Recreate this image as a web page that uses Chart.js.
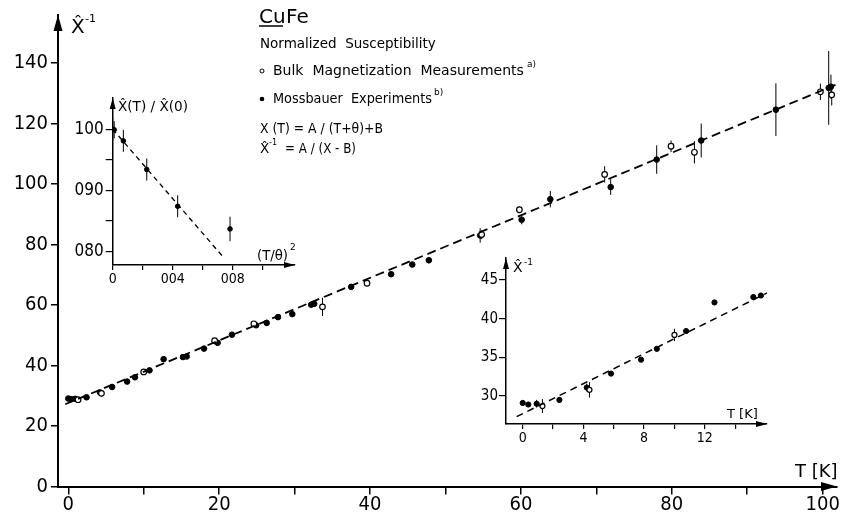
<!DOCTYPE html>
<html>
<head>
<meta charset="utf-8">
<script src="https://cdn.jsdelivr.net/npm/chart.js@4.4.1/dist/chart.umd.min.js"></script>
<style>
  html, body { margin: 0; padding: 0; background: #fff; }
  #wrap { position: relative; width: 841px; height: 518px; }
  #wrap canvas { position: absolute; left: 0; top: 0; }
</style>
</head>
<body>
<div id="wrap">
  <canvas id="mainChart" width="841" height="518"></canvas>
  <canvas id="ratioChart" width="841" height="518"></canvas>
  <canvas id="lowTChart" width="841" height="518"></canvas>
</div>
<script>
// Main plot: inverse normalized susceptibility vs T [K]
const bulkT = [1.3, 4.4, 10.0, 19.4, 24.6, 33.7, 39.6, 54.8, 59.8, 71.1, 79.9, 83.0, 99.7, 101.2];
const bulkInv = [28.7, 30.8, 37.9, 48.2, 53.8, 59.4, 67.2, 83.3, 91.5, 103.2, 112.5, 110.5, 130.5, 129.5];
const bulkErr = [0.9, 1.0, 0.8, 0.8, 0.8, 3.0, 0.8, 1.5, 1.0, 2.7, 1.9, 3.7, 2.7, 3.5];

const mossT = [0, 0.37, 0.92, 2.42, 4.22, 5.82, 7.8, 8.84, 10.77, 12.64, 15.2, 15.7,
  18.0, 19.8, 21.7, 24.9, 26.3, 27.8, 29.7, 32.2, 32.6, 37.5,
  42.8, 45.6, 47.8, 54.6, 60.1, 63.9, 71.9, 78.0, 83.9, 93.8, 100.8, 101.1];
const mossInv = [29.1, 28.9, 29.0, 29.5, 31.1, 32.9, 34.7, 36.1, 38.4, 42.1, 42.8, 43.0,
  45.6, 47.5, 50.2, 53.3, 54.1, 56.0, 57.0, 60.1, 60.4, 66.0,
  70.2, 73.4, 74.8, 83.0, 88.2, 95.0, 99.0, 108.1, 114.4, 124.6, 131.8, 132.2];
const mossErr = [0.3, 0.3, 0.5, 0.3, 0.5, 0.3, 0.3, 0.3, 0.3, 0.3, 0.3, 0.3,
  0.3, 0.3, 0.3, 0.8, 0.3, 0.3, 0.5, 0.3, 0.3, 0.3,
  0.3, 0.3, 1.0, 2.4, 1.5, 2.7, 2.6, 4.7, 5.6, 8.7, 12.2, 4.0];

const fitMainT = [-0.4, 101.7];
const fitMainInv = [27.2, 132.8];

const mainXTicks = [0, 10, 20, 30, 40, 50, 60, 70, 80, 90, 100];
const mainXLabels = ["0", "", "20", "", "40", "", "60", "", "80", "", "100"];
const mainYTicks = [0, 20, 40, 60, 80, 100, 120, 140];
const mainYLabels = ["0", "20", "40", "60", "80", "100", "120", "140"];

// Upper inset: X(T)/X(0) vs (T/theta)^2
const ratioX = [0, 0.001, 0.0071, 0.0227, 0.0433, 0.0782];
const ratioY = [1.0, 0.999, 0.981, 0.934, 0.874, 0.837];
const ratioErr = [0.019, 0.014, 0.018, 0.018, 0.018, 0.02];
const fitRatioX = [0, 0.0733];
const fitRatioY = [1.0, 0.792];
const ratioXTicks = [0, 0.02, 0.04, 0.06, 0.08, 0.1];
const ratioXLabels = ["0", "", "004", "", "008", ""];
const ratioYTicks = [0.8, 0.85, 0.9, 0.95, 1.0];
const ratioYLabels = ["080", "", "090", "", "100"];

// Lower inset: low temperature part of the main data
const lowTMax = 16;
const fitLowT = [-0.4, 16.9];
const fitLowInv = [27.33, 44.1];
const lowXTicks = [0, 2, 4, 6, 8, 10, 12, 14];
const lowXLabels = ["0", "", "4", "", "8", "", "12", ""];
const lowYTicks = [30, 35, 40, 45];
const lowYLabels = ["30", "35", "40", "45"];

const FONT = '"DejaVu Sans Condensed", "DejaVu Sans", sans-serif';
const TEXT_FONT = '"DejaVu Sans", sans-serif';

const toPoints = (xs, ys) => xs.map((x, i) => ({ x: x, y: ys[i] }));

const linearAxis = (cfg) => ({
  type: "linear",
  position: cfg.position,
  min: cfg.min,
  max: cfg.max,
  afterBuildTicks: (scale) => {
    scale.ticks = cfg.ticks.map((v) => ({ value: v }));
  },
  afterFit: (scale) => {
    if (cfg.position === "left") scale.width = cfg.size;
    else scale.height = cfg.size;
  },
  border: { display: true, color: "#000", width: cfg.lineWidth },
  grid: {
    drawOnChartArea: false,
    drawTicks: true,
    tickLength: cfg.tickLength,
    color: "#000",
    lineWidth: cfg.tickWidth,
  },
  ticks: {
    color: "#000",
    autoSkip: false,
    maxRotation: 0,
    padding: cfg.padding,
    font: { family: FONT, size: cfg.fontSize, lineHeight: 1 },
    callback: (value, index) => cfg.labels[index],
  },
});

// vertical error bars, drawn under the markers
const errorBarPlugin = {
  id: "errorBars",
  beforeDatasetsDraw(chart) {
    const ctx = chart.ctx;
    const yScale = chart.scales.y;
    ctx.save();
    ctx.strokeStyle = "#000";
    ctx.lineWidth = 1;
    chart.data.datasets.forEach((ds, i) => {
      if (!ds.errorBars) return;
      const meta = chart.getDatasetMeta(i);
      meta.data.forEach((pt, j) => {
        const e = ds.errorBars[j];
        if (!e) return;
        const v = ds.data[j].y;
        ctx.beginPath();
        ctx.moveTo(pt.x, yScale.getPixelForValue(v - e));
        ctx.lineTo(pt.x, yScale.getPixelForValue(v + e));
        ctx.stroke();
      });
    });
    ctx.restore();
  },
};

// arrow heads at the ends of both axes
const makeArrowPlugin = (len, half) => ({
  id: "axisArrows",
  afterDraw(chart) {
    const ctx = chart.ctx;
    const a = chart.chartArea;
    ctx.save();
    ctx.fillStyle = "#000";
    ctx.beginPath();
    ctx.moveTo(a.left, a.top);
    ctx.lineTo(a.left - half, a.top + len);
    ctx.lineTo(a.left + half, a.top + len);
    ctx.closePath();
    ctx.fill();
    ctx.beginPath();
    ctx.moveTo(a.right, a.bottom);
    ctx.lineTo(a.right - len, a.bottom - half);
    ctx.lineTo(a.right - len, a.bottom + half);
    ctx.closePath();
    ctx.fill();
    ctx.restore();
  },
});

// free text, superscripts and legend markers
const makeTextPlugin = (items) => ({
  id: "freeText",
  afterDraw(chart) {
    const ctx = chart.ctx;
    ctx.save();
    ctx.fillStyle = "#000";
    ctx.strokeStyle = "#000";
    ctx.textBaseline = "alphabetic";
    ctx.textAlign = "left";
    items.forEach((t) => {
      if (t.dot) {
        ctx.beginPath();
        ctx.arc(t.x, t.y, t.r, 0, Math.PI * 2);
        if (t.dot === "open") {
          ctx.lineWidth = 1;
          ctx.stroke();
        } else {
          ctx.fill();
        }
        return;
      }
      if (t.line) {
        ctx.lineWidth = t.width || 1.5;
        ctx.beginPath();
        ctx.moveTo(t.x, t.y);
        ctx.lineTo(t.x2, t.y);
        ctx.stroke();
        return;
      }
      ctx.font = `${t.size}px ${t.family || TEXT_FONT}`;
      if (t.maxWidth) ctx.fillText(t.text, t.x, t.y, t.maxWidth);
      else ctx.fillText(t.text, t.x, t.y);
    });
    ctx.restore();
  },
});

const scatterSet = (xs, ys, errs, filled, radius) => ({
  data: toPoints(xs, ys),
  errorBars: errs,
  pointStyle: "circle",
  pointRadius: radius,
  pointHoverRadius: radius,
  backgroundColor: filled ? "#000" : "#fff",
  borderColor: "#000",
  borderWidth: filled ? 1 : 1.2,
  showLine: false,
});

const fitSet = (xs, ys, width, dash) => ({
  data: toPoints(xs, ys),
  showLine: true,
  borderColor: "#000",
  borderWidth: width,
  borderDash: dash,
  pointRadius: 0,
  pointHoverRadius: 0,
  fill: false,
});

const baseOptions = (padding, x, y) => ({
  responsive: false,
  animation: false,
  devicePixelRatio: 1,
  layout: { padding: padding },
  plugins: { legend: { display: false }, tooltip: { enabled: false } },
  events: [],
  scales: { x: x, y: y },
});

// ---------- main chart ----------
const mainText = [
  { text: "X\u0302", x: 71, y: 33, size: 20 },
  { text: "-1", x: 85, y: 22, size: 11 },
  { text: "T [K]", x: 795, y: 477, size: 18, maxWidth: 44 },
  { text: "Cu", x: 259, y: 23, size: 20 },
  { line: true, x: 259, x2: 283, y: 26, width: 1.5 },
  { text: "Fe", x: 286, y: 23, size: 20 },
  { text: "Normalized  Susceptibility", x: 260, y: 48, size: 13.5, maxWidth: 178 },
  { dot: "open", x: 262, y: 71, r: 2 },
  { text: "Bulk  Magnetization  Measurements", x: 273, y: 75, size: 14, maxWidth: 252 },
  { text: "a)", x: 527, y: 67, size: 9 },
  { dot: "fill", x: 262, y: 99, r: 2.3 },
  { text: "Mossbauer  Experiments", x: 273, y: 103, size: 14, maxWidth: 159 },
  { text: "b)", x: 434, y: 95, size: 9 },
  { text: "X (T) = A / (T+\u03b8)+B", x: 260, y: 133, size: 13.5, maxWidth: 123 },
  { text: "X\u0302", x: 260, y: 153, size: 13.5 },
  { text: "-1", x: 269, y: 145, size: 8 },
  { text: "= A / (X - B)", x: 285, y: 153, size: 13.5, maxWidth: 71 },
];

new Chart(document.getElementById("mainChart"), {
  type: "scatter",
  data: {
    datasets: [
      fitSet(fitMainT, fitMainInv, 1.8, [9, 5]),
      scatterSet(bulkT, bulkInv, bulkErr, false, 2.8),
      scatterSet(mossT, mossInv, mossErr, true, 2.8),
    ],
  },
  options: baseOptions(
    { left: 0, top: 15, right: 1, bottom: 0 },
    linearAxis({ position: "bottom", min: -1.36, max: 101.9, ticks: mainXTicks, labels: mainXLabels,
      size: 31.5, lineWidth: 2, tickLength: 8, tickWidth: 1.5, padding: 0, fontSize: 20 }),
    linearAxis({ position: "left", min: 0, max: 155.9, ticks: mainYTicks, labels: mainYLabels,
      size: 58, lineWidth: 2, tickLength: 7, tickWidth: 1.5, padding: 3, fontSize: 20 })
  ),
  plugins: [errorBarPlugin, makeArrowPlugin(16, 4.5), makeTextPlugin(mainText)],
});

// ---------- upper inset ----------
const ratioText = [
  { text: "X\u0302(T) / X\u0302(0)", x: 118, y: 111, size: 14, maxWidth: 70 },
  { text: "(T/\u03b8)", x: 257, y: 260, size: 14, maxWidth: 31 },
  { text: "2", x: 290, y: 250, size: 9 },
];

new Chart(document.getElementById("ratioChart"), {
  type: "scatter",
  data: {
    datasets: [
      fitSet(fitRatioX, fitRatioY, 1.3, [5, 4]),
      scatterSet(ratioX, ratioY, ratioErr, true, 2.3),
    ],
  },
  options: baseOptions(
    { left: 67.7, top: 98, right: 546, bottom: 223 },
    linearAxis({ position: "bottom", min: 0, max: 0.1215, ticks: ratioXTicks, labels: ratioXLabels,
      size: 30, lineWidth: 1.5, tickLength: 5, tickWidth: 1.2, padding: 2, fontSize: 14 }),
    linearAxis({ position: "left", min: 0.778, max: 1.051, ticks: ratioYTicks, labels: ratioYLabels,
      size: 45, lineWidth: 1.5, tickLength: 7, tickWidth: 1.2, padding: 2, fontSize: 17 })
  ),
  plugins: [errorBarPlugin, makeArrowPlugin(11, 3), makeTextPlugin(ratioText)],
});

// ---------- lower inset ----------
const pick = (xs, ys) => ys.filter((_, i) => xs[i] <= lowTMax);

const lowText = [
  { text: "X\u0302", x: 513, y: 272, size: 14 },
  { text: "-1", x: 524, y: 265, size: 9 },
  { text: "T [K]", x: 727, y: 418, size: 13, maxWidth: 40 },
];

new Chart(document.getElementById("lowTChart"), {
  type: "scatter",
  data: {
    datasets: [
      fitSet(fitLowT, fitLowInv, 1.5, [7, 5]),
      scatterSet(pick(bulkT, bulkT), pick(bulkT, bulkInv), pick(bulkT, bulkErr), false, 2.5),
      scatterSet(pick(mossT, mossT), pick(mossT, mossInv), pick(mossT, mossErr), true, 2.6),
    ],
  },
  options: baseOptions(
    { left: 466, top: 258, right: 74, bottom: 64 },
    linearAxis({ position: "bottom", min: -1.1, max: 16.1, ticks: lowXTicks, labels: lowXLabels,
      size: 30, lineWidth: 1.5, tickLength: 5, tickWidth: 1.2, padding: 2, fontSize: 14 }),
    linearAxis({ position: "left", min: 26.38, max: 47.85, ticks: lowYTicks, labels: lowYLabels,
      size: 40, lineWidth: 1.5, tickLength: 7, tickWidth: 1.2, padding: 1, fontSize: 15 })
  ),
  plugins: [errorBarPlugin, makeArrowPlugin(11, 3), makeTextPlugin(lowText)],
});
</script>
</body>
</html>
